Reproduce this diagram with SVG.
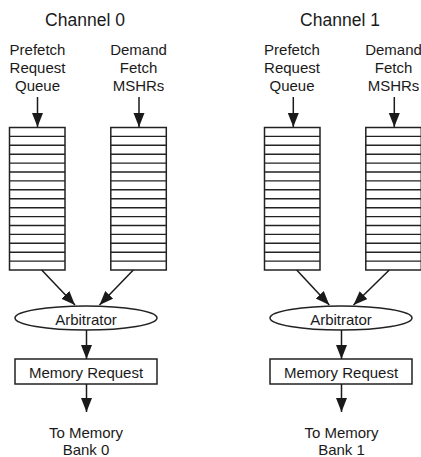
<svg xmlns="http://www.w3.org/2000/svg" xmlns:xlink="http://www.w3.org/1999/xlink" width="421" height="457" viewBox="0 0 421 457">
  <style>
    text { font-family: "Liberation Sans", Arial, sans-serif; fill: #1a1a1a; text-anchor: middle; }
    .title { font-size: 17.5px; }
    .label { font-size: 15px; }
    .shape { fill: #ffffff; stroke: #222222; stroke-width: 1.5; }
    .rows { fill: none; stroke: #222222; stroke-width: 1.4; }
    .edge { fill: none; stroke: #1a1a1a; stroke-width: 1.5; marker-end: url(#arrow); }
  </style>
  <defs>
    <marker id="arrow" markerUnits="userSpaceOnUse" markerWidth="15" markerHeight="12" refX="14" refY="5.5" orient="auto">
      <path d="M0,0 L14,5.5 L0,11 Z" fill="#1a1a1a"/>
    </marker>
    <!-- 16-entry queue -->
    <g id="queue">
      <rect class="shape" x="0" y="0" width="55.5" height="142.5"/>
      <path class="rows" d="M0,8.9H55.5M0,17.8H55.5M0,26.7H55.5M0,35.6H55.5M0,44.5H55.5M0,53.4H55.5M0,62.3H55.5M0,71.2H55.5M0,80.2H55.5M0,89.1H55.5M0,98H55.5M0,106.9H55.5M0,115.8H55.5M0,124.7H55.5M0,133.6H55.5"/>
    </g>
  </defs>

  <!-- Channel 0 -->
  <g id="channel0-title"><text class="title" x="85" y="26">Channel 0</text></g>
  <g id="c0-prefetch-label">
    <text class="label" x="37.5" y="55">Prefetch</text>
    <text class="label" x="37.5" y="73">Request</text>
    <text class="label" x="37.5" y="91">Queue</text>
  </g>
  <g id="c0-demand-label">
    <text class="label" x="138.5" y="55">Demand</text>
    <text class="label" x="138.5" y="73">Fetch</text>
    <text class="label" x="138.5" y="91">MSHRs</text>
  </g>
  <g id="c0-prefetch-queue"><use xlink:href="#queue" x="9.5" y="127.5"/></g>
  <g id="c0-demand-queue"><use xlink:href="#queue" x="110.8" y="127.5"/></g>
  <g id="c0-arbitrator">
    <ellipse class="shape" cx="86" cy="318" rx="71" ry="12"/>
    <text class="label" x="86" y="324.5">Arbitrator</text>
  </g>
  <g id="c0-memory-request">
    <rect class="shape" x="15" y="359" width="142" height="25"/>
    <text class="label" x="86" y="377.5">Memory Request</text>
  </g>
  <g id="c0-bank">
    <text class="label" x="86" y="438">To Memory</text>
    <text class="label" x="86" y="455">Bank 0</text>
  </g>

  <!-- Channel 1 -->
  <g id="channel1-title"><text class="title" x="340" y="26">Channel 1</text></g>
  <g id="c1-prefetch-label">
    <text class="label" x="292" y="55">Prefetch</text>
    <text class="label" x="292" y="73">Request</text>
    <text class="label" x="292" y="91">Queue</text>
  </g>
  <g id="c1-demand-label">
    <text class="label" x="393.5" y="55">Demand</text>
    <text class="label" x="393.5" y="73">Fetch</text>
    <text class="label" x="393.5" y="91">MSHRs</text>
  </g>
  <g id="c1-prefetch-queue"><use xlink:href="#queue" x="264.5" y="127.5"/></g>
  <g id="c1-demand-queue"><use xlink:href="#queue" x="365.8" y="127.5"/></g>
  <g id="c1-arbitrator">
    <ellipse class="shape" cx="341" cy="318" rx="71" ry="12"/>
    <text class="label" x="341" y="324.5">Arbitrator</text>
  </g>
  <g id="c1-memory-request">
    <rect class="shape" x="270" y="359" width="142" height="25"/>
    <text class="label" x="341" y="377.5">Memory Request</text>
  </g>
  <g id="c1-bank">
    <text class="label" x="341.5" y="438">To Memory</text>
    <text class="label" x="341.5" y="455">Bank 1</text>
  </g>

  <!-- Connectors -->
  <g id="connectors">
    <line class="edge" x1="37.5" y1="97" x2="37.5" y2="127"/>
    <line class="edge" x1="139" y1="97" x2="139" y2="127"/>
    <line class="edge" x1="41.7" y1="270" x2="75" y2="305"/>
    <line class="edge" x1="133.3" y1="270" x2="99.5" y2="305"/>
    <line class="edge" x1="86.5" y1="330" x2="86.5" y2="359"/>
    <line class="edge" x1="86.5" y1="384" x2="86.5" y2="412"/>

    <line class="edge" x1="293.3" y1="97" x2="293.3" y2="127"/>
    <line class="edge" x1="394.3" y1="97" x2="394.3" y2="127"/>
    <line class="edge" x1="296.7" y1="270" x2="329.3" y2="305"/>
    <line class="edge" x1="389.3" y1="270" x2="353.5" y2="305"/>
    <line class="edge" x1="341.5" y1="330" x2="341.5" y2="359"/>
    <line class="edge" x1="341.5" y1="384" x2="341.5" y2="412"/>
  </g>
</svg>
